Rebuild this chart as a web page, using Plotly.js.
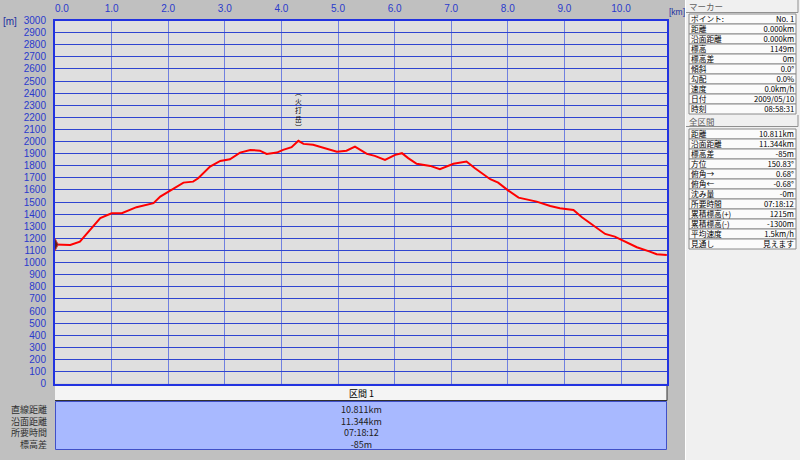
<!DOCTYPE html>
<html><head><meta charset="utf-8">
<script src="https://cdn.plot.ly/plotly-3.0.1.min.js"></script>
<style>html,body{margin:0;padding:0;background:#c0c0c0;}#chart{width:800px;height:460px;}</style>
</head><body><div id="chart"></div>
<script>
// ---- data ----
const distKm = [0.00,0.27,0.44,0.62,0.80,1.00,1.18,1.44,1.74,1.86,2.00,2.27,2.44,2.53,2.74,2.92,3.09,3.27,3.45,3.62,3.74,3.92,4.03,4.18,4.30,4.39,4.56,4.80,4.98,5.15,5.30,5.51,5.65,5.83,6.01,6.13,6.24,6.39,6.63,6.80,7.04,7.27,7.42,7.69,7.83,8.01,8.19,8.51,8.75,8.92,9.16,9.31,9.51,9.72,9.89,10.04,10.28,10.51,10.63,10.81];
const elevM = [1149,1146,1173,1270,1367,1408,1408,1458,1491,1545,1587,1661,1669,1697,1793,1840,1854,1909,1931,1925,1898,1909,1931,1954,2006,1981,1973,1940,1917,1925,1959,1898,1882,1849,1890,1904,1863,1816,1799,1772,1816,1835,1780,1689,1661,1595,1537,1504,1468,1450,1435,1375,1311,1237,1215,1182,1127,1091,1069,1064];
const xTickVals = [0,1,2,3,4,5,6,7,8,9,10];
const xTickText = ['\u00a0\u00a0\u00a0\u00a0\u00a00.0','1.0','2.0','3.0','4.0','5.0','6.0','7.0','8.0','9.0','10.0'];
const peakName = ['︵','火','打','岳','︶'];
const sectionHeader = '区間 1';
const sectionLabels = ['直線距離','沿面距離','所要時間','標高差'];
const sectionValues = ['10.811km','11.344km','07:18:12','-85m'];
const markerLabels = ['ポイント:','距離','沿面距離','標高','標高差','傾斜','勾配','速度','日付','時刻'];
const markerValues = ['No. 1','0.000km','0.000km','1149m','0m','0.0°','0.0%','0.0km/h','2009/05/10','08:58:31'];
const totalLabels = ['距離','沿面距離','標高差','方位','俯角→','俯角←','沈み量','所要時間','累積標高(+)','累積標高(-)','平均速度','見通し'];
const totalValues = ['10.811km','11.344km','-85m','150.83°','0.68°','-0.68°','-0m','07:18:12','1215m','-1300m','1.5km/h','見えます'];

// ---- helpers (pixel -> paper) ----
const W = 800, H = 460;
const px = x => x / W;
const py = y => 1 - y / H;
const CJK = 'Noto Sans CJK JP, sans-serif';
const NUM = 'Liberation Sans Narrow, Liberation Sans, sans-serif';
const shapes = [];
const ann = [];
function rect(x0, y0, x1, y1, fill, line, lw) {
  shapes.push({type:'rect', xref:'paper', yref:'paper', x0:px(x0), x1:px(x1), y0:py(y1), y1:py(y0),
    fillcolor:fill, line:{color:line||fill, width:(lw===undefined?1:lw)}, layer:'below'});
}
function hline(x0, x1, y, color) {
  shapes.push({type:'line', xref:'paper', yref:'paper', x0:px(x0), x1:px(x1), y0:py(y), y1:py(y), line:{color:color, width:1}, layer:'below'});
}
function vline(x, y0, y1, color) {
  shapes.push({type:'line', xref:'paper', yref:'paper', x0:px(x), x1:px(x), y0:py(y0), y1:py(y1), line:{color:color, width:1}, layer:'below'});
}
function text(t, x, y, anchor, size, color, family) {
  ann.push({text:t, xref:'paper', yref:'paper', x:px(x), y:py(y), xanchor:anchor, yanchor:'middle', align:anchor,
    showarrow:false, borderpad:0, font:{family:family||CJK, size:size, color:color}});
}

// right panel
rect(685, 0, 800, 460, '#f0f0f0', '#f0f0f0', 0);
vline(685.5, 0, 460, '#ffffff');
// header bars
rect(686, 0, 798, 12.5, '#f0f0f0', '#f0f0f0', 0);
hline(686, 798, 12.5, '#909090'); vline(798, 0, 12.5, '#909090');
text('マーカー', 688, 6.5, 'left', 8.5, '#606060');
rect(686, 115, 798, 126.5, '#f0f0f0', '#f0f0f0', 0);
hline(686, 798, 126.5, '#909090'); vline(798, 115, 126.5, '#909090');
text('全区間', 688, 121, 'left', 8.5, '#606060');
// table rows (one multi-line text block per column, 10px line pitch)
const PANEL_FS = 7.7;
markerLabels.forEach((l, i) => { const y0 = 14 + 10 * i; rect(689, y0, 796, y0 + 10, '#fbfbfb', '#8a8a8a', 1); });
totalLabels.forEach((l, i) => { const y0 = 129 + 10 * i; rect(689, y0, 796, y0 + 10, '#fbfbfb', '#8a8a8a', 1); });
text(markerLabels.join('<br>'), 690, 14 + 5 * markerLabels.length, 'left', PANEL_FS, '#000000');
text(markerValues.join('<br>'), 795, 14 + 5 * markerValues.length, 'right', PANEL_FS, '#000000');
text(totalLabels.join('<br>'), 690, 129 + 5 * totalLabels.length, 'left', PANEL_FS, '#000000');
text(totalValues.join('<br>'), 795, 129 + 5 * totalValues.length, 'right', PANEL_FS, '#000000');

// bottom section table
rect(55, 386, 667, 400.5, '#f4f4f4', '#f4f4f4', 0);
hline(55, 667, 400.5, '#303030'); vline(667, 386, 400.5, '#303030');
text(sectionHeader, 361, 393, 'center', 9, '#000000');
rect(55.5, 401.5, 666.5, 449.5, '#a8b9ff', '#4050c8', 1);
text(sectionLabels.join('<br>'), 48, 426.5, 'right', 9, '#303030');
text(sectionValues.join('<br>'), 361, 426.5, 'center', 9, '#202020');

// units
text('[m]', 2, 22, 'left', 10, '#2030a0', NUM);
text('[km]', 667.5, 12, 'left', 8.5, '#2030a0', NUM);

// peak label (vertical) anchored on the highest point
let pk = 0; elevM.forEach((v, i) => { if (v > elevM[pk]) pk = i; });
ann.push({text:peakName.join('<br>'), xref:'x', yref:'y', x:distKm[pk], y:elevM[pk], yshift:8, showarrow:false,
  xanchor:'center', yanchor:'bottom', borderpad:0, font:{family:CJK, size:6.8, color:'#000000'}});

const traces = [
  {x:distKm, y:elevM, type:'scatter', mode:'lines', line:{color:'#ff0000', width:2}, hoverinfo:'skip'},
  {x:[distKm[0]], y:[elevM[0]], type:'scatter', mode:'markers',
   marker:{symbol:'diamond-tall', size:9, color:'#5a2020', line:{color:'#d03030', width:1}}, hoverinfo:'skip'}
];

const layout = {
  width: W, height: H, margin:{l:0, r:0, t:0, b:0}, showlegend:false,
  paper_bgcolor:'#c0c0c0', plot_bgcolor:'#dfdfdf',
  xaxis:{domain:[px(55), px(667.3)], range:[0, 10.818], side:'top', tickvals:xTickVals, ticktext:xTickText,
    showgrid:true, gridcolor:'#7080e0', gridwidth:1, zeroline:false, showline:true, mirror:true,
    linecolor:'#2233e0', linewidth:2, ticks:'', ticklabelstandoff:3,
    tickfont:{family:NUM, size:10, color:'#2a3acc'}, fixedrange:true},
  yaxis:{domain:[py(383.7), py(20.5)], range:[0, 3000], dtick:100, tick0:0,
    showgrid:true, gridcolor:'#2e44d0', gridwidth:1, zeroline:false, showline:true, mirror:true,
    linecolor:'#2233e0', linewidth:2, ticks:'', ticklabelstandoff:5,
    tickfont:{family:NUM, size:10, color:'#2a3acc'}, fixedrange:true},
  shapes: shapes, annotations: ann
};
Plotly.newPlot('chart', traces, layout, {staticPlot:true, displayModeBar:false});
</script></body></html>
